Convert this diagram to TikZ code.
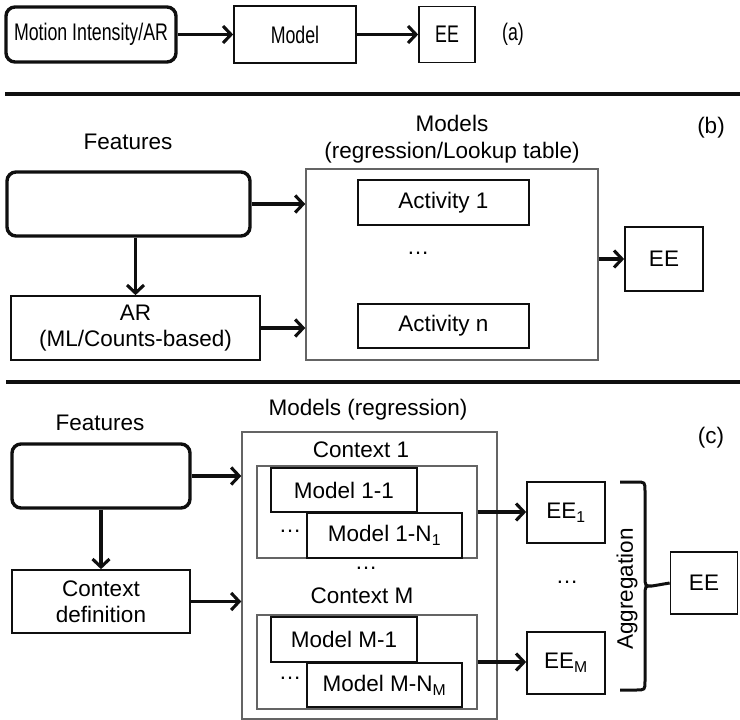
\documentclass[tikz,border=0pt]{standalone}
\usepackage{fontspec}
\setmainfont{Liberation Sans}
\usepackage{graphicx}
\usepackage{xcolor}
\usepackage{tikz}
\usetikzlibrary{arrows.meta,calc,positioning}
\definecolor{ink}{RGB}{15,15,15}
\definecolor{frame}{RGB}{100,100,100}
\newcommand\narrowtxt[1]{{\fontsize{24}{28}\selectfont\scalebox{0.74}[1]{#1}}}
\def\RowA{34.5}
\def\RowB{204}
\def\RowC{476}
\tikzset{
  sz/.style 2 args={minimum width=#1pt, minimum height=#2pt},
  box/.style={
    draw=ink, line width=1.7pt, inner sep=0pt,
    align=center, font=\fontsize{22.5}{26}\selectfont,
  },
  rbox/.style={box, line width=3.4pt, rounded corners=9pt},
  grp/.style={draw=frame, line width=1.4pt, inner sep=0pt},
  lbl/.style={inner sep=0pt, align=center, font=\fontsize{22.5}{27}\selectfont},
  arr/.style={-{Straight Barb[length=8pt,width=17pt]}, line width=3.1pt, draw=ink},
  rule/.style={line width=3.8pt, draw=ink},
  brc/.style={line width=3pt, draw=ink},
}

\begin{document}
\begin{tikzpicture}[x=1pt,y=-1pt]
  \useasboundingbox (0,0) rectangle (740,720);

  \node[rbox, sz={170}{55}] (mia) at (91,\RowA) {\narrowtxt{Motion Intensity/AR}};
  \node[box, sz={122}{57}] (moda) at (295,\RowA) {\narrowtxt{Model}};
  \node[box, sz={56}{56}] (eea) at (447,\RowA) {\narrowtxt{EE}};
  \node[lbl] (taga) at (513,\RowA) {\narrowtxt{(a)}};
  \draw[arr] (mia)--(moda);
  \draw[arr] (moda)--(eea);
  \draw[rule] (5,94) -- (740,94);

  \node[lbl] (featlb) at (128,142) {Features};
  \node[rbox, sz={243}{64}] (featb) at (128.5,\RowB) {};
  \node[box, sz={249}{64}] (arb) at (135.5,328) {AR\\(ML/Counts-based)};
  \node[grp, sz={292}{191}] (modsb) at (452,264.5) {};
  \node[lbl, above=5pt of modsb] (modslb) {Models\\(regression/Lookup table)};
  \node[box, sz={171}{45}] (act1) at (443.5,202.5) {Activity 1};
  \node[lbl] (dotsb) at (418,253) {\ldots};
  \node[box, sz={171}{44}] (actn) at (443.5,326) {Activity n};
  \node[box, sz={78}{64}] (eeb) at (664,259) {EE};
  \node[lbl] (tagb) at (711,128) {(b)};
  \draw[arr] (featb.east) -- (featb.east -| modsb.west);
  \draw[arr] (featb.south -| arb.north) -- (arb.north);
  \draw[arr] (arb.east) -- (arb.east -| modsb.west);
  \draw[arr] (eeb.west -| modsb.east) -- (eeb.west);
  \draw[rule] (6,382) -- (740,382);

  \node[lbl] (featlc) at (100,423) {Features};
  \node[rbox, sz={178}{64}] (featc) at (101,\RowC) {};
  \node[box, sz={178}{63}] (ctxdef) at (101,601.5) {Context\\definition};
  \node[grp, sz={255}{287}] (modsc) at (369.5,575.5) {};
  \node[lbl] (modslc) at (368,410) {Models (regression)};
  \node[lbl] (ctx1lb) at (361,450) {Context 1};
  \node[grp, sz={220}{92}] (ctx1) at (367,512) {};
  \node[box, sz={146}{44}] (m11) at (344,490) {Model 1-1};
  \node[box, sz={155}{45}, fill=white] (m1n) at (384.5,535.5) {Model 1-N\textsubscript{1}};
  \node[lbl] (dots1) at (290,531) {\ldots};
  \node[lbl] (dotsmid) at (366,568) {\ldots};
  \node[lbl] (ctxMlb) at (362,596) {Context M};
  \node[grp, sz={220}{94}] (ctxM) at (367,662) {};
  \node[box, sz={146}{45}] (mM1) at (344,639.5) {Model M-1};
  \node[box, sz={155}{44}, fill=white] (mMn) at (384.5,685) {Model M-N\textsubscript{M}};
  \node[lbl] (dotsM) at (290,678) {\ldots};
  \node[box, sz={78}{61}] (ee1) at (566,512.5) {EE\textsubscript{1}};
  \node[lbl] (dotsee) at (567,582) {\ldots};
  \node[box, sz={78}{62}] (eeM) at (566,663) {EE\textsubscript{M}};
  \node[box, sz={67}{62}] (eec) at (704,583) {EE};
  \node[lbl, rotate=90] (agglb) at (627,589) {Aggregation};
  \node[lbl] (tagc) at (711,438) {(c)};
  \draw[arr] (featc.south) -- (ctxdef.north);
  \draw[arr] (featc.east) -- (featc.east -| modsc.west);
  \draw[arr] (ctxdef.east) -- (ctxdef.east -| modsc.west);
  \draw[arr] (ctx1.east) -- (ctx1.east -| ee1.west);
  \draw[arr] (ctxM.east) -- (ctxM.east -| eeM.west);

  \coordinate (brtop) at (620,482);
  \coordinate (brbot) at (620,690);
  \coordinate (brtip) at (652,586);
  \draw[brc] (brtop) -- (636,482) .. controls (645,482) .. (645,491) -- (645,576)
    .. controls (645,586) .. (brtip) .. controls (645,586) .. (645,596) -- (645,681)
    .. controls (645,690) .. (636,690) -- (brbot);
  \draw[brc] (brtip) -- (eec.west);
\end{tikzpicture}
\end{document}
